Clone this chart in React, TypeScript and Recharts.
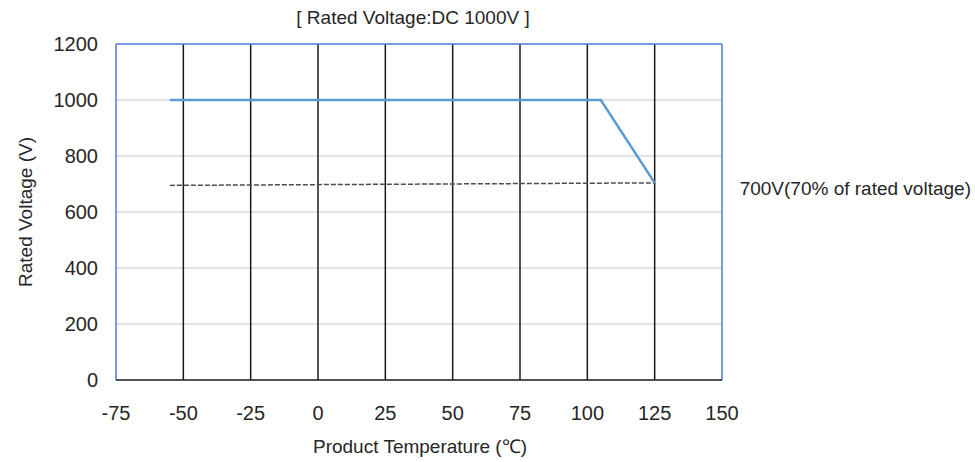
import React from "react";
import { Label, Line, LineChart, ReferenceLine, XAxis, YAxis } from "recharts";

// product temperature (℃) and rated voltage (V)
const temperatureTicks = [-75, -50, -25, 0, 25, 50, 75, 100, 125, 150];
const voltageTicks = [0, 200, 400, 600, 800, 1000, 1200];

const ratedTemp = [-55, 105, 125];
const ratedVolt = [1000, 1000, 704];

const limitTemp = [-55, 125];
const limitVolt = [695, 704];

const chartTitle = "[ Rated Voltage:DC 1000V ]";
const xTitle = "Product Temperature (℃)";
const yTitle = "Rated Voltage (V)";
const limitLabel = "700V(70% of rated voltage)";

const ratedData = ratedTemp.map((t, i) => ({ temp: t, volt: ratedVolt[i] }));
const limitData = limitTemp.map((t, i) => ({ temp: t, volt: limitVolt[i] }));

const FONT = "'Liberation Sans', Arial, sans-serif";
const TEXT = "#262626";
const BORDER = "#4a7fd4";

const App = () => {
    return (
        <div style={{ position: "absolute", left: 0, top: 0 }}>
            <LineChart
                width={975}
                height={462}
                margin={{ top: 44, right: 253, bottom: 0, left: 0 }}
                style={{ fontFamily: FONT }}
            >
                <XAxis
                    dataKey="temp"
                    type="number"
                    domain={[-75, 150]}
                    ticks={temperatureTicks}
                    allowDuplicatedCategory={false}
                    height={82}
                    tickLine={false}
                    tickSize={0}
                    tickMargin={26}
                    axisLine={{ stroke: "#1a1a1a", strokeWidth: 1.5 }}
                    tick={{ fill: TEXT, fontSize: 20 }}
                >
                    <Label
                        content={(props: any) => {
                            const vb = props.viewBox || { x: 116, y: 380, width: 606 };
                            return (
                                <text
                                    x={vb.x + vb.width / 2 + 1}
                                    y={vb.y + 73}
                                    textAnchor="middle"
                                    fill={TEXT}
                                    fontSize={19}
                                    fontFamily={FONT}
                                >
                                    {xTitle}
                                </text>
                            );
                        }}
                    />
                </XAxis>
                <YAxis
                    type="number"
                    domain={[0, 1200]}
                    ticks={voltageTicks}
                    width={116}
                    axisLine={false}
                    tickLine={false}
                    tickSize={0}
                    tickMargin={18}
                    tick={{ fill: TEXT, fontSize: 20 }}
                >
                    <Label
                        content={() => (
                            <text
                                x={32}
                                y={212}
                                transform="rotate(-90 32 212)"
                                textAnchor="middle"
                                fill={TEXT}
                                fontSize={19}
                                fontFamily={FONT}
                            >
                                {yTitle}
                            </text>
                        )}
                    />
                </YAxis>

                {voltageTicks.slice(1, -1).map((v) => (
                    <ReferenceLine key={"h" + v} y={v} stroke="#d9d9d9" strokeWidth={1.5} />
                ))}
                {temperatureTicks.slice(1, -1).map((t) => (
                    <ReferenceLine key={"v" + t} x={t} stroke="#1a1a1a" strokeWidth={1.5} />
                ))}
                <ReferenceLine x={-75} stroke={BORDER} strokeWidth={1.5} />
                <ReferenceLine x={150} stroke={BORDER} strokeWidth={1.5} />
                <ReferenceLine y={1200} stroke={BORDER} strokeWidth={1.5}>
                    <Label
                        content={(props: any) => {
                            const vb = props.viewBox || { x: 116, y: 44, width: 606 };
                            return (
                                <text
                                    x={vb.x + vb.width / 2 - 6}
                                    y={24}
                                    textAnchor="middle"
                                    fill={TEXT}
                                    fontSize={19}
                                    fontFamily={FONT}
                                >
                                    {chartTitle}
                                </text>
                            );
                        }}
                    />
                </ReferenceLine>

                <Line
                    data={limitData}
                    dataKey="volt"
                    stroke="#4d4d4d"
                    strokeWidth={1.5}
                    strokeDasharray="5 2"
                    dot={false}
                    activeDot={false}
                    isAnimationActive={false}
                    label={(props: any) =>
                        props.index === limitData.length - 1 ? (
                            <text
                                key="limit-label"
                                x={props.x + 85}
                                y={props.y + 12}
                                fill={TEXT}
                                fontSize={19}
                                fontFamily={FONT}
                            >
                                {limitLabel}
                            </text>
                        ) : (
                            <g key={"l" + props.index} />
                        )
                    }
                />
                <Line
                    data={ratedData}
                    dataKey="volt"
                    stroke="#5b9bd5"
                    strokeWidth={2.5}
                    dot={false}
                    activeDot={false}
                    isAnimationActive={false}
                />
            </LineChart>
        </div>
    );
};

export default App;
